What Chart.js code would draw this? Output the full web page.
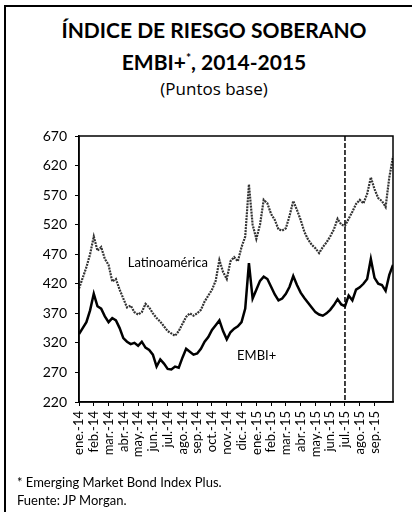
<!DOCTYPE html>
<html>
<head>
<meta charset="utf-8">
<script src="https://cdn.jsdelivr.net/npm/chart.js@4"></script>
<style>
    body { margin: 0; background: #fff; }
    #wrap { position: relative; width: 412px; height: 512px; overflow: hidden; font-family: Lato, sans-serif; color: #000; }
    #frame { position: absolute; left: 4px; top: 5px; width: 420px; height: 520px; border-left: 2px solid #000; border-top: 2px solid #000; }
    .t { position: absolute; left: 0; width: 428px; text-align: center; white-space: nowrap; }
    #t1 { top: 17px; font-size: 21px; font-weight: bold; }
    #t2 { top: 49px; font-size: 21px; font-weight: bold; }
    #t3 { top: 77px; font-size: 17px; font-family: 'Open Sans', sans-serif; }
    .note { position: absolute; left: 17px; font-size: 13px; white-space: nowrap; }
    canvas { position: absolute; left: 0; top: 0; }
</style>
</head>
<body>
<div id="wrap">
    <div id="frame"></div>
    <div class="t" id="t1">ÍNDICE DE RIESGO SOBERANO</div>
    <div class="t" id="t2">EMBI+<sup style="font-size:12px">*</sup>, 2014-2015</div>
    <div class="t" id="t3">(Puntos base)</div>
    <canvas id="riskChart" width="412" height="512"></canvas>
    <div class="note" style="top:474px">* Emerging Market Bond Index Plus.</div>
    <div class="note" style="top:492px">Fuente: JP Morgan.</div>
</div>
<script>
// month tick labels, one per month start
const months = ['ene.-14', 'feb.-14', 'mar.-14', 'abr.-14', 'may.-14', 'jun.-14', 'jul.-14',
    'ago.-14', 'sep.-14', 'oct.-14', 'nov.-14', 'dic.-14', 'ene.-15', 'feb.-15', 'mar.-15',
    'abr.-15', 'may.-15', 'jun.-15', 'jul.-15', 'ago.-15', 'sep.-15'];

// values read every quarter month (x = index / 4, in months from ene.-14)
const latam = [412, 430, 448, 470, 500, 476, 482, 462, 452, 424, 428, 410, 395, 380, 383, 372,
    368, 372, 386, 380, 370, 362, 356, 348, 340, 336, 332, 340, 352, 364, 370, 366,
    370, 376, 390, 400, 410, 425, 460, 440, 428, 458, 465, 458, 482, 500, 588, 520,
    496, 520, 562, 556, 538, 528, 512, 510, 514, 535, 560, 545, 528, 508, 495, 486,
    480, 472, 482, 490, 500, 512, 530, 520, 518, 530, 542, 555, 562, 556, 572, 600,
    580, 565, 560, 550, 600, 635];

const embi = [335, 345, 355, 375, 403, 382, 378, 365, 355, 362, 358, 345, 328, 322, 318, 320,
    315, 322, 312, 308, 300, 280, 292, 285, 276, 275, 280, 278, 295, 310, 305, 300,
    302, 310, 322, 330, 342, 350, 358, 340, 326, 338, 344, 348, 355, 378, 455, 395,
    410, 425, 432, 428, 415, 402, 392, 395, 403, 415, 433, 418, 405, 396, 388, 380,
    372, 368, 366, 370, 376, 384, 394, 385, 382, 400, 392, 410, 414, 420, 428, 462,
    430, 420, 418, 408, 435, 452];

const yTicks = [220, 270, 320, 370, 420, 470, 520, 570, 620, 670];
const cutMonth = 18; // dashed line at jul.-15

const toPoints = arr => arr.map((v, i) => ({ x: i / 4, y: v }));

const extras = {
    id: 'extras',
    afterDatasetsDraw(chart) {
        const { ctx, chartArea: a, scales: { x, y } } = chart;
        ctx.save();
        // dashed line
        const px = x.getPixelForValue(cutMonth);
        ctx.strokeStyle = '#000';
        ctx.lineWidth = 1.5;
        ctx.setLineDash([5, 2]);
        ctx.beginPath();
        ctx.moveTo(px, a.top);
        ctx.lineTo(px, a.bottom);
        ctx.stroke();
        ctx.setLineDash([]);
        // plot frame
        ctx.lineWidth = 1.5;
        ctx.strokeRect(a.left, a.top, a.right - a.left, a.bottom - a.top);
        // series labels
        ctx.fillStyle = '#000';
        ctx.font = '13px Lato';
        ctx.textBaseline = 'middle';
        ctx.fillText('Latinoamérica', x.getPixelForValue(3.3), y.getPixelForValue(456));
        ctx.fillText('EMBI+', x.getPixelForValue(10.7), y.getPixelForValue(298));
        ctx.restore();
    }
};

new Chart(document.getElementById('riskChart'), {
    type: 'line',
    data: {
        datasets: [{
            label: 'Latinoamérica',
            data: toPoints(latam),
            borderColor: '#333',
            borderWidth: 2.2,
            borderDash: [2, 1],
            pointRadius: 0,
            tension: 0
        }, {
            label: 'EMBI+',
            data: toPoints(embi),
            borderColor: '#000',
            borderWidth: 2.5,
            pointRadius: 0,
            tension: 0
        }]
    },
    options: {
        responsive: false,
        animation: false,
        layout: { padding: { left: 29, top: 136, right: 19, bottom: 0 } },
        plugins: { legend: { display: false }, tooltip: { enabled: false } },
        scales: {
            x: {
                type: 'linear',
                min: 0,
                max: 21.25,
                afterBuildTicks: s => { s.ticks = months.map((m, i) => ({ value: i })); },
                afterFit: s => { s.height = 110; },
                grid: { drawOnChartArea: false, tickLength: 4, color: '#000' },
                border: { color: '#000', width: 1.5 },
                ticks: {
                    autoSkip: false,
                    minRotation: 90,
                    maxRotation: 90,
                    padding: 5,
                    color: '#000',
                    font: { family: 'Lato', size: 13 },
                    callback: v => months[v]
                }
            },
            y: {
                min: 220,
                max: 670,
                afterBuildTicks: s => { s.ticks = yTicks.map(v => ({ value: v })); },
                afterFit: s => { s.width = 50; },
                grid: { drawOnChartArea: false, tickLength: 4, color: '#000' },
                border: { color: '#000', width: 1.5 },
                ticks: {
                    padding: 8,
                    color: '#000',
                    font: { family: 'Lato', size: 14 }
                }
            }
        }
    },
    plugins: [extras]
});
</script>
</body>
</html>
